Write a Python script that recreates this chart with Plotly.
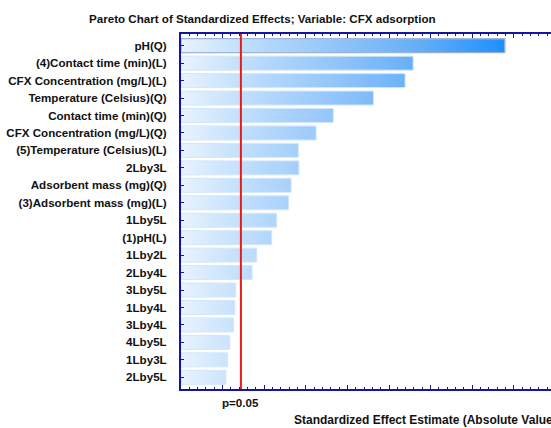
import plotly.graph_objects as go

categories = [
    "pH(Q)", "(4)Contact time (min)(L)", "CFX Concentration (mg/L)(L)",
    "Temperature (Celsius)(Q)", "Contact time (min)(Q)", "CFX Concentration (mg/L)(Q)",
    "(5)Temperature (Celsius)(L)", "2Lby3L", "Adsorbent mass (mg)(Q)",
    "(3)Adsorbent mass (mg)(L)", "1Lby5L", "(1)pH(L)", "1Lby2L", "2Lby4L",
    "3Lby5L", "1Lby4L", "3Lby4L", "4Lby5L", "1Lby3L", "2Lby5L",
]
effects = [11.68, 8.37, 8.08, 6.94, 5.49, 4.87, 4.23, 4.25, 3.97, 3.88,
           3.45, 3.27, 2.73, 2.56, 1.97, 1.94, 1.89, 1.76, 1.68, 1.62]
p_crit = 2.16
p_label = "p=0.05"
title_text = "Pareto Chart of Standardized Effects; Variable: CFX adsorption"
x_title = "Standardized Effect Estimate (Absolute Value)"

half = 0.4
xs, ys = [], []
for i, v in enumerate(effects):
    xs += [0, v, v, 0, 0, None]
    ys += [i - half, i - half, i + half, i + half, i - half, None]

axis_blue = "#1414a0"
font_fam = "Liberation Sans, Arial, sans-serif"

fig = go.Figure()
fig.add_trace(go.Scatter(
    x=xs, y=ys, mode="lines", fill="toself",
    line=dict(color="#d2e6fa", width=1),
    fillgradient=dict(type="horizontal",
                      colorscale=[[0, "#e8f3fe"], [0.25, "#b6d9fc"], [0.5, "#8ec3fa"],
                                  [0.75, "#62acf8"], [1, "#1e8fff"]],
                      start=0, stop=max(effects)),
    hoverinfo="skip", showlegend=False,
))
# outline of the leading (largest) effect bar
fig.add_trace(go.Scatter(
    x=xs[:5], y=ys[:5], mode="lines",
    line=dict(color="#8fa9c9", width=1),
    hoverinfo="skip", showlegend=False,
))

fig.add_shape(type="line", xref="x", yref="paper", x0=p_crit, x1=p_crit,
              y0=0, y1=1, line=dict(color="#e41e1e", width=2), layer="above")

fig.add_annotation(text=p_label, xref="x", yref="paper", x=p_crit, y=-0.039,
                   xanchor="center", yanchor="middle", showarrow=False,
                   font=dict(family=font_fam, size=11.6, color="#111111", weight="bold"))
fig.add_annotation(text=x_title, xref="paper", yref="paper", x=(292 - 181) / 370, y=-0.087,
                   xanchor="left", yanchor="middle", showarrow=False,
                   font=dict(family=font_fam, size=12, color="#111111", weight="bold"))
fig.add_annotation(text=title_text, xref="paper", yref="paper",
                   x=(262 - 181) / 370, y=1 + 16 / 355, xanchor="center", yanchor="middle",
                   showarrow=False,
                   font=dict(family=font_fam, size=11.6, color="#111111", weight="bold"))

fig.update_xaxes(range=[0, 13.34], tickmode="linear", tick0=0, dtick=1.5,
                 showticklabels=False, ticks="inside", ticklen=4, tickwidth=1,
                 tickcolor=axis_blue,
                 minor=dict(dtick=0.3, tick0=0, ticks="inside", ticklen=2,
                            tickwidth=1, tickcolor=axis_blue, showgrid=False),
                 showline=True, linecolor=axis_blue, linewidth=2, mirror="allticks",
                 showgrid=False, zeroline=False)
fig.update_yaxes(range=[19.67, -0.67], tickmode="array",
                 tickvals=list(range(len(categories))), ticktext=categories,
                 ticks="inside", ticklen=3, tickwidth=1, tickcolor=axis_blue,
                 showline=True, linecolor=axis_blue, linewidth=2, mirror=False,
                 showgrid=False, zeroline=False, ticklabelstandoff=10,
                 tickfont=dict(family=font_fam, size=11.6, color="#111111", weight="bold"))

fig.update_layout(width=551, height=428, margin=dict(l=181, r=0, t=34, b=39),
                  plot_bgcolor="white", paper_bgcolor="white", showlegend=False)

fig.write_html("out.html", config={"displayModeBar": False},
               post_script="document.body.style.margin='0';document.body.style.overflow='hidden';")
